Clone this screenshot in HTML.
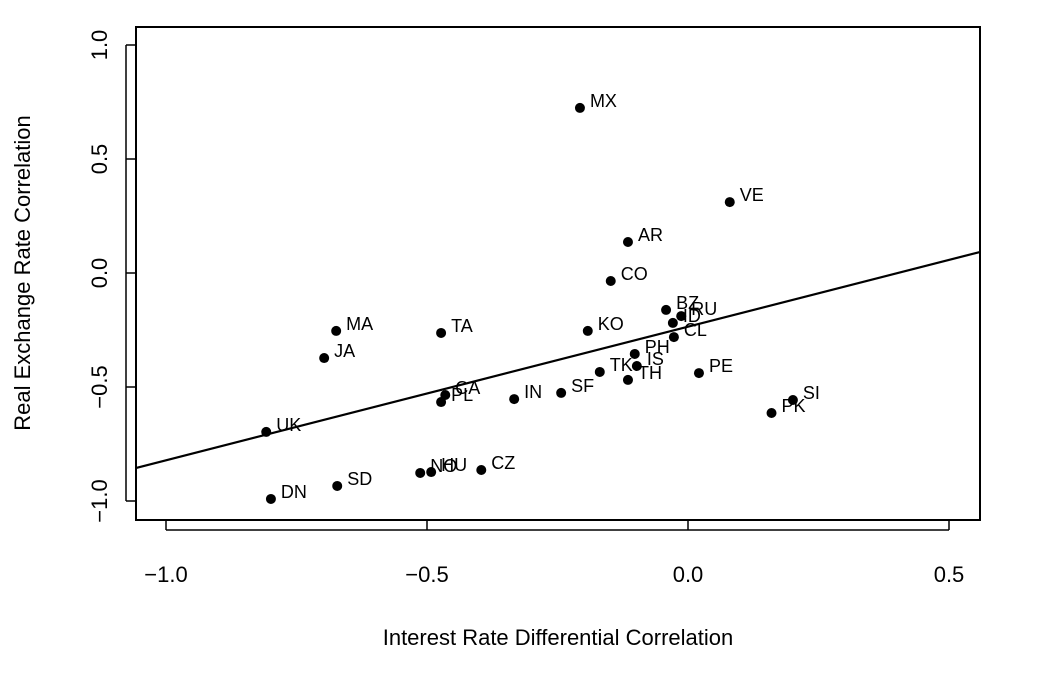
<!DOCTYPE html>
<html><head><meta charset="utf-8"><style>
body{margin:0;background:#fff}
svg text{font-family:"Liberation Sans",Arial,sans-serif;fill:#000}
</style></head><body>
<svg id="c" width="1040" height="680">
<rect x="136" y="27" width="844" height="493" fill="none" stroke="#000" stroke-width="2"/>
<g id="ax"></g><g id="pts"></g>
<text x="558" y="645" font-size="22" text-anchor="middle">Interest Rate Differential Correlation</text>
<text transform="translate(30,273) rotate(-90)" font-size="22" text-anchor="middle">Real Exchange Rate Correlation</text>
</svg>
<script>
const labels=["MX","VE","AR","CO","BZ","RU","ID","CL","KO","PH","IS","TK","TH","PE","SF","IN","CA","PL","NO","HU","CZ","SD","DN","UK","JA","MA","TA","PK","SI"];
const xVals=[-0.207,0.080,-0.115,-0.148,-0.042,-0.013,-0.029,-0.027,-0.192,-0.102,-0.098,-0.169,-0.115,0.021,-0.243,-0.333,-0.465,-0.473,-0.513,-0.492,-0.396,-0.672,-0.799,-0.808,-0.697,-0.674,-0.473,0.160,0.201];
const yVals=[0.724,0.311,0.136,-0.035,-0.162,-0.189,-0.219,-0.281,-0.254,-0.355,-0.408,-0.434,-0.469,-0.439,-0.526,-0.553,-0.535,-0.566,-0.877,-0.873,-0.864,-0.934,-0.991,-0.697,-0.373,-0.254,-0.263,-0.614,-0.557];
const xTicks=[-1.0,-0.5,0.0,0.5];
const yTicks=[-1.0,-0.5,0.0,0.5,1.0];
const fitLine=[[-1.057,-0.855],[0.559,0.092]];
const X=v=>688+v*522, Y=v=>273-v*228;
const NS="http://www.w3.org/2000/svg";
function mk(t,a,p){const e=document.createElementNS(NS,t);for(const k in a)e.setAttribute(k,a[k]);p.appendChild(e);return e;}
const ax=document.getElementById('ax'),pts=document.getElementById('pts');
xTicks.forEach(v=>{
 const l=mk('line',{x1:X(v),x2:X(v),y1:520,y2:530,stroke:'#000','stroke-width':1.5},ax);
 
 
 const t=mk('text',{x:X(v),y:582,'font-size':22,'text-anchor':'middle'},ax);t.textContent=(v<0?'\u2212':'')+Math.abs(v).toFixed(1);
 
 
});
mk('line',{x1:X(-1),x2:X(0.5),y1:530,y2:530,stroke:'#000','stroke-width':1.5},ax);
yTicks.forEach(v=>{
 const l=mk('line',{x1:126,x2:136,y1:Y(v),y2:Y(v),stroke:'#000','stroke-width':1.5},ax);
 
 
 const t=mk('text',{transform:`translate(107,${Y(v)}) rotate(-90)`,'font-size':22,'text-anchor':'middle'},ax);t.textContent=(v<0?'\u2212':'')+Math.abs(v).toFixed(1);
 
 
});
mk('line',{x1:126,x2:126,y1:Y(-1),y2:Y(1),stroke:'#000','stroke-width':1.5},ax);
const fl=mk('line',{x1:X(fitLine[0][0]),y1:Y(fitLine[0][1]),x2:X(fitLine[1][0]),y2:Y(fitLine[1][1]),stroke:'#000','stroke-width':2.2},pts);


labels.forEach((n,i)=>{
 const c=mk('circle',{cx:X(xVals[i]),cy:Y(yVals[i]),r:5,fill:'#000'},pts);
 
 
 const t=mk('text',{x:X(xVals[i])+10,y:Y(yVals[i])-1,'font-size':18},pts);t.textContent=n;
 
 
});
</script>
</body></html>
